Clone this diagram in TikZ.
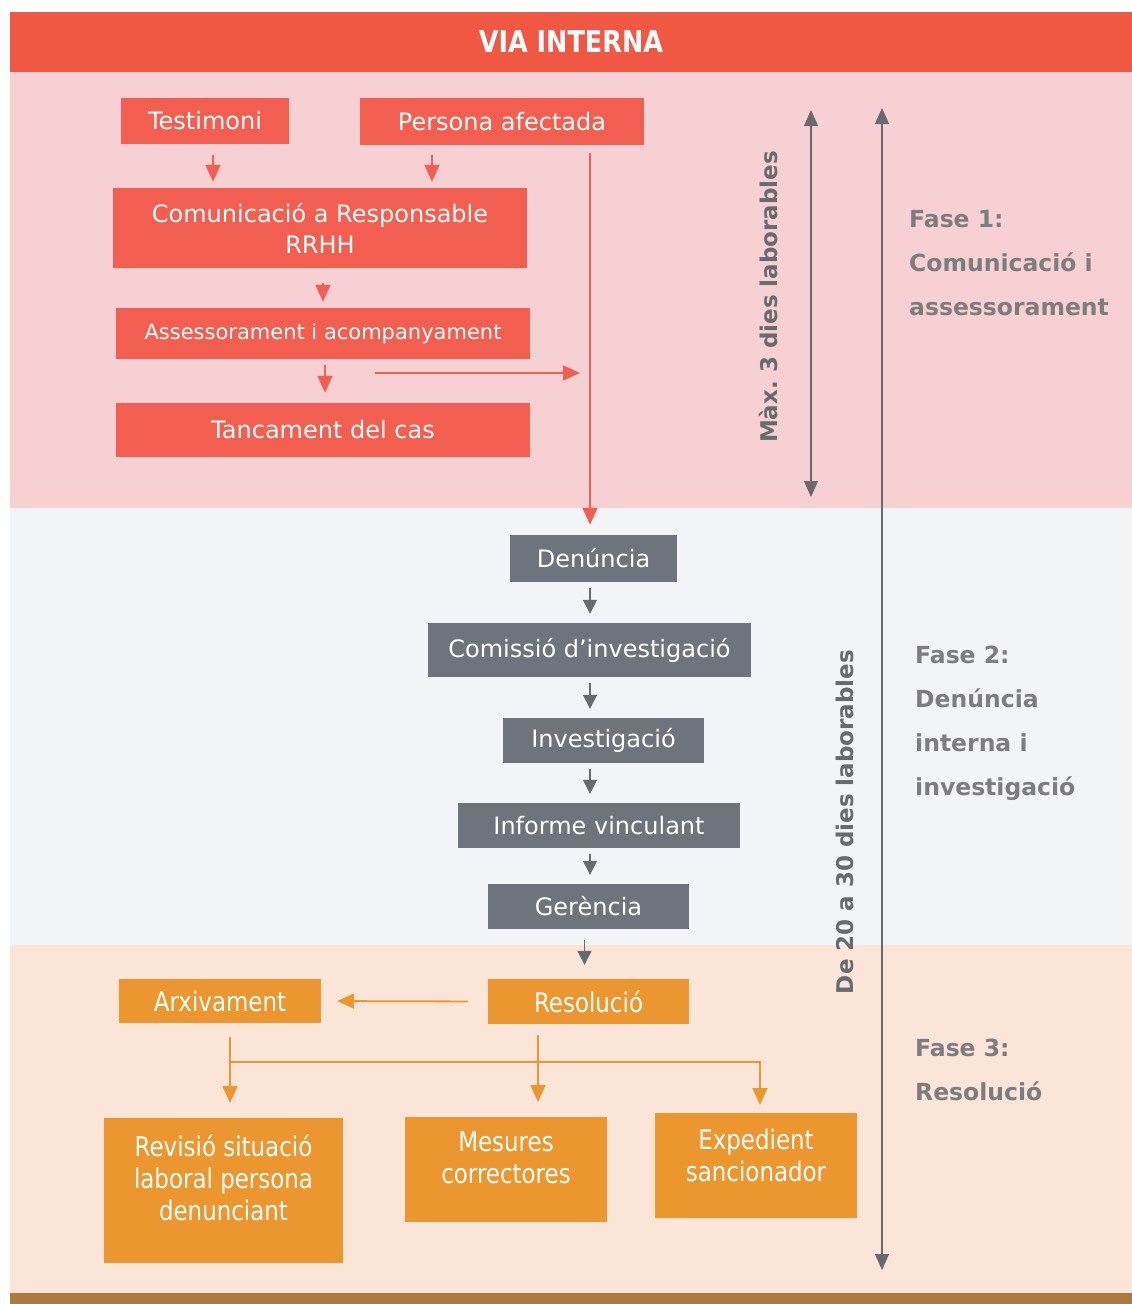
\documentclass[tikz,border=0pt]{standalone}
\usepackage{fontspec}
\setmainfont{DejaVu Sans}
\newfontfamily\narrowfont{DejaVu Sans}[FakeStretch=0.85]
\usetikzlibrary{
	positioning		% Allows relative placement
	, arrows.meta		% Allows Triangle arrow tips
	, calc
}

\definecolor{headred}{RGB}{240,88,68}
\definecolor{phaseonebg}{RGB}{247,208,212}
\definecolor{phasetwobg}{RGB}{243,244,248}
\definecolor{phasethreebg}{RGB}{251,229,216}
\definecolor{boxred}{RGB}{242,95,80}
\definecolor{boxgray}{RGB}{111,116,124}
\definecolor{boxorange}{RGB}{236,150,47}
\definecolor{footbrown}{RGB}{172,122,62}
\definecolor{phasegray}{RGB}{125,125,128}
\definecolor{timegray}{RGB}{105,106,110}

\begin{document}
\begin{tikzpicture}[
		x=1pt, y=-1pt
		, box/.style={inner sep=0pt, text=white, align=center}
		, redbox/.style={box, fill=boxred, font=\fontsize{24}{31}\selectfont}
		, graybox/.style={box, fill=boxgray, font=\fontsize{24}{30}\selectfont}
		, orangebox/.style={box, fill=boxorange, font=\narrowfont\fontsize{27}{32}\selectfont}
		, redflow/.style={draw=boxred, line width=1.6pt, -{Triangle[width=15pt,length=17pt]}}
		, grayflow/.style={draw=timegray, line width=1.4pt, -{Triangle[width=14pt,length=14pt]}}
		, orangeflow/.style={draw=boxorange, line width=1.8pt, -{Triangle[width=15pt,length=17pt]}}
		, timespan/.style={draw=timegray, line width=1.2pt, {Triangle[width=14pt,length=16pt]}-{Triangle[width=14pt,length=16pt]}}
		, timelabel/.style={rotate=90, inner sep=0pt, text=timegray, font=\bfseries\fontsize{23}{28}\selectfont}
		, phaselabel/.style={anchor=north west, inner sep=0pt, align=left, text=phasegray, font=\bfseries\fontsize{23.5}{44}\selectfont}
	]

	% Page margins and the three phase bands
	\useasboundingbox (0,0) rectangle (1132,1304);
	\fill[white] (0,0) rectangle (1132,1304);
	\fill[phaseonebg] (10,72) rectangle (1132,508);
	\fill[phasetwobg] (10,508) rectangle (1132,945);
	\fill[phasethreebg] (10,945) rectangle (1132,1293);
	\fill[footbrown] (10,1293) rectangle (1132,1304);

	% Title band
	\node[fill=headred, minimum width=1122pt, minimum height=60pt, inner sep=0pt, text=white,
		font=\narrowfont\bfseries\fontsize{30}{34}\selectfont] (title) at (571,42) {VIA INTERNA};

	% Columns used by the connectors
	\coordinate (spine) at (590,0);
	\coordinate (colA) at (213,0);
	\coordinate (colB) at (432,0);
	\coordinate (colC) at (323,0);
	\coordinate (colD) at (325,0);
	\coordinate (colArx) at (230,0);
	\coordinate (colRes) at (538,0);
	\coordinate (fork) at (375,373);
	\coordinate (branch) at (230,1062);

	% Phase 1: communication
	\node[redbox, minimum width=168pt, minimum height=46pt] (testimoni) at (205,121) {Testimoni};
	\node[redbox, minimum width=284pt, minimum height=47pt] (afectada) at (502,121.5) {Persona afectada};
	\node[redbox, minimum width=414pt, minimum height=80pt] (comunicacio) at (320,228) {Comunicació a Responsable\\RRHH};
	\node[redbox, minimum width=414pt, minimum height=51pt, font=\fontsize{21}{24}\selectfont] (assessorament) at (323,333.5) {Assessorament i acompanyament};
	\node[redbox, minimum width=414pt, minimum height=54pt] (tancament) at (323,430) {Tancament del cas};

	% Phase 2: complaint and investigation
	\node[graybox, minimum width=167pt, minimum height=47pt] (denuncia) at (593.5,558.5) {Denúncia};
	\node[graybox, minimum width=323pt, minimum height=54pt] (comissio) at (589.5,650) {Comissió d’investigació};
	\node[graybox, minimum width=201pt, minimum height=45pt] (investigacio) at (603.5,740.5) {Investigació};
	\node[graybox, minimum width=282pt, minimum height=45pt] (informe) at (599,825.5) {Informe vinculant};
	\node[graybox, minimum width=201pt, minimum height=45pt] (gerencia) at (588.5,906.5) {Gerència};

	% Phase 3: resolution
	\node[orangebox, minimum width=202pt, minimum height=44pt] (arxivament) at (220,1001) {Arxivament};
	\node[orangebox, minimum width=201pt, minimum height=45pt] (resolucio) at (588.5,1001.5) {Resolució};
	\node[orangebox, anchor=north, minimum width=239pt, text height=102pt, text depth=43pt] (revisio) at (223.5,1118) {Revisió situació\\laboral persona\\denunciant};
	\node[orangebox, anchor=north, minimum width=202pt, text height=66pt, text depth=39pt] (mesures) at (506,1117) {Mesures\\correctores};
	\node[orangebox, anchor=north, minimum width=202pt, text height=68pt, text depth=37pt] (expedient) at (756,1113) {Expedient\\sancionador};

	% Red connectors
	\draw[redflow, shorten <=11pt, shorten >=6pt] (testimoni.south -| colA) -- (comunicacio.north -| colA);
	\draw[redflow, shorten <=10pt, shorten >=6pt] (afectada.south -| colB) -- (comunicacio.north -| colB);
	\draw[redflow, shorten <=15pt, shorten >=6pt] (comunicacio.south -| colC) -- (assessorament.north -| colC);
	\draw[redflow, shorten <=6pt, shorten >=10pt] (assessorament.south -| colD) -- (tancament.north -| colD);
	\draw[redflow, shorten >=10pt] (fork) -- (fork -| spine);
	\draw[redflow, shorten <=8pt, shorten >=10pt] (afectada.south -| spine) -- (denuncia.north -| spine);

	% Gray connectors
	\foreach \from/\to in {denuncia/comissio, comissio/investigacio, investigacio/informe, informe/gerencia} {
		\draw[grayflow, shorten <=6pt, shorten >=9pt] (\from.south -| spine) -- (\to.north -| spine);
	};
	\draw[grayflow, shorten <=11pt, shorten >=14pt] ([xshift=-4pt]gerencia.south) -- ([xshift=-4pt]gerencia.south |- resolucio.north);

	% Orange connectors
	\draw[orangeflow, shorten <=20pt, shorten >=16pt] (resolucio.west) -- (arxivament.east);
	\draw[orangeflow, shorten <=14pt, shorten >=15pt] (arxivament.south -| colArx) -- (revisio.north -| colArx);
	\draw[orangeflow, shorten <=11pt, shorten >=15pt] (resolucio.south -| colRes) -- (mesures.north -| colRes);
	\draw[orangeflow, shorten >=8pt] (branch) -| ([xshift=4pt]expedient.north);

	% Time spans
	\coordinate (shorttop) at (811,110);
	\coordinate (shortbot) at (811,497);
	\coordinate (longtop) at (882,108);
	\coordinate (longbot) at (882,1270);
	\draw[timespan] (shorttop) -- (shortbot);
	\draw[timespan] (longtop) -- (longbot);
	\node[timelabel] (maxlabel) at (768,297) {Màx.\ 3 dies laborables};
	\node[timelabel] (rangelabel) at (845,822) {De 20 a 30 dies laborables};

	% Phase titles
	\node[phaselabel] (faseone) at (909,210) {Fase 1:\\Comunicació i\\assessorament};
	\node[phaselabel] (fasetwo) at (915,646) {Fase 2:\\Denúncia\\interna i\\investigació};
	\node[phaselabel] (fasethree) at (915,1039) {Fase 3:\\Resolució};
\end{tikzpicture}
\end{document}
